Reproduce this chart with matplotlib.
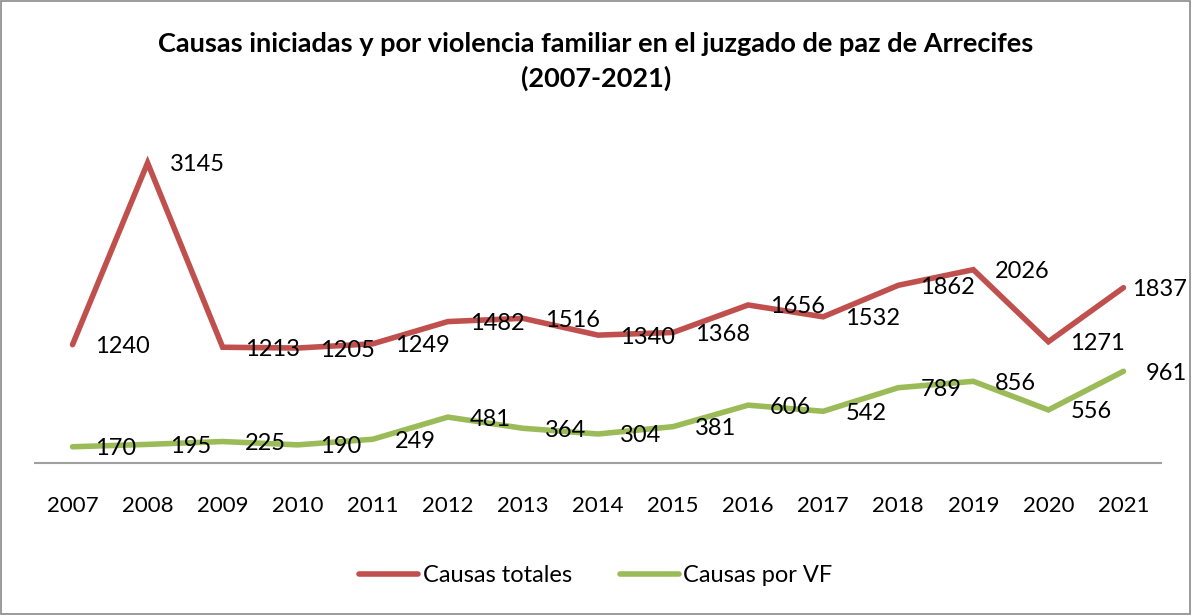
import matplotlib
matplotlib.use("Agg")
import matplotlib.pyplot as plt
from matplotlib.patches import Rectangle

years = ["2007", "2008", "2009", "2010", "2011", "2012", "2013", "2014",
         "2015", "2016", "2017", "2018", "2019", "2020", "2021"]
causas_totales = [1240, 3145, 1213, 1205, 1249, 1482, 1516, 1340, 1368,
                  1656, 1532, 1862, 2026, 1271, 1837]
causas_vf = [170, 195, 225, 190, 249, 481, 364, 304, 381, 606, 542, 789,
             856, 556, 961]

RED = "#C0504D"
GREEN = "#9BBB59"
FONT = "Lato"

fig = plt.figure(figsize=(11.92, 6.15), dpi=100)
fig.patch.set_facecolor("white")
fig.patches.append(Rectangle((0.0005, 0.001), 0.998, 0.997, transform=fig.transFigure,
                             fill=False, edgecolor="#8a8a8a", linewidth=1.2))

# plot area: x from 35 to 1161 px, y from 129 to 463 px (top-origin)
W, H = 1192, 615
ax = fig.add_axes([35 / W, 1 - 463 / H, (1161 - 35) / W, (463 - 129) / H])
x = list(range(len(years)))
ax.plot(x, causas_totales, color=RED, linewidth=4, solid_capstyle="round",
        solid_joinstyle="miter", label="Causas totales")
ax.plot(x, causas_vf, color=GREEN, linewidth=4, solid_capstyle="round",
        solid_joinstyle="miter", label="Causas por VF")

n = len(years)
for series in (causas_totales, causas_vf):
    for xi, v in zip(x, series):
        dx = 22
        if xi == n - 1 and series is causas_totales:
            dx = 9
        ax.annotate(str(v), (xi, v), xytext=(dx, -2), textcoords="offset pixels",
                    ha="left", va="center", fontsize=17, family=FONT, color="black")

ax.set_xlim(-0.5, n - 0.5)
ax.set_ylim(0, 3500)
ax.set_yticks([])
ax.set_xticks(x)
ax.set_xticklabels(years, fontsize=16, family=FONT)
ax.tick_params(axis="x", length=0, pad=24)
for s in ["top", "left", "right"]:
    ax.spines[s].set_visible(False)
ax.spines["bottom"].set_color("#a0a0a0")
ax.spines["bottom"].set_linewidth(1.5)
ax.patch.set_alpha(0)

fig.text(0.5, 1 - 44 / H, "Causas iniciadas y por violencia familiar en el juzgado de paz de Arrecifes",
         ha="center", va="center", fontsize=19.5, fontweight="bold", family=FONT)
fig.text(0.5, 1 - 78 / H, "(2007-2021)", ha="center", va="center",
         fontsize=19.5, fontweight="bold", family=FONT)

leg = fig.legend(loc="center", bbox_to_anchor=(0.5, 1 - 576 / H), ncol=2,
                 frameon=False, prop={"family": FONT, "size": 17},
                 handlelength=2.5, handletextpad=0.2, columnspacing=2.0)

fig.savefig("out.png", dpi=100, facecolor="white")
